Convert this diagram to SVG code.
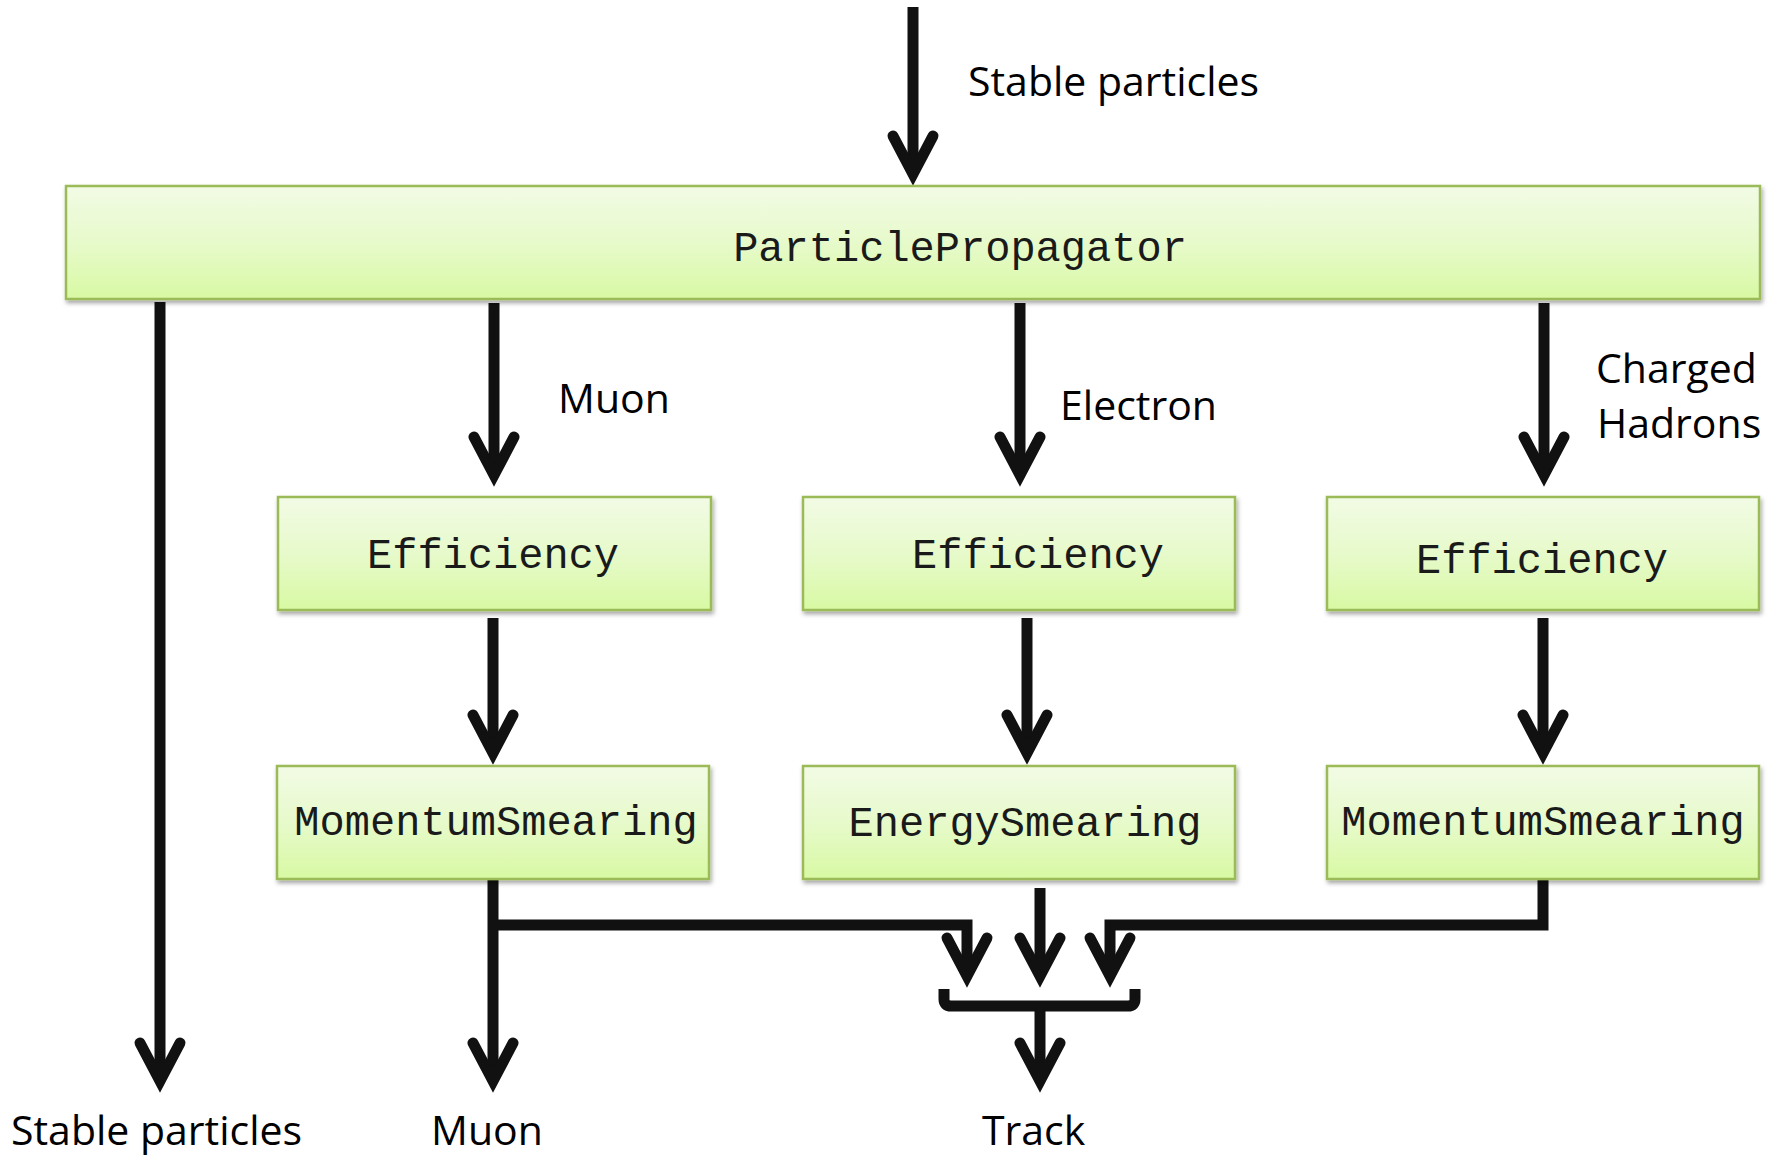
<svg xmlns="http://www.w3.org/2000/svg" width="1771" height="1158" viewBox="0 0 1771 1158">
  <style>
    .box { fill: url(#boxFill); stroke: #9bbb59; stroke-width: 2.5; filter: url(#shadow); }
    .mono { font-family: "Liberation Mono", "Courier New", monospace; font-size: 42px; fill: #1a1a1a; text-anchor: middle; }
    .lbl { font-family: "Open Sans", "Liberation Sans", sans-serif; font-size: 41px; fill: #000; }
    .wire { fill: none; stroke: #111; stroke-width: 11; stroke-linecap: butt; stroke-linejoin: miter; }
    .arrow { marker-end: url(#head); }
  </style>
  <defs>
    <linearGradient id="boxFill" x1="0" y1="0" x2="0" y2="1">
      <stop offset="0" stop-color="#f2fbe5"/>
      <stop offset="0.5" stop-color="#e7facb"/>
      <stop offset="1" stop-color="#d8f9a3"/>
    </linearGradient>
    <filter id="shadow" x="-5%" y="-20%" width="110%" height="150%">
      <feDropShadow dx="1.5" dy="3" stdDeviation="2" flood-color="#000" flood-opacity="0.35"/>
    </filter>
    <!-- open chevron head; path ends at the chevron vertex, the miter forms the tip -->
    <marker id="head" markerUnits="userSpaceOnUse" orient="auto" refX="0" refY="0" markerWidth="10" markerHeight="10" overflow="visible">
      <path d="M-38,-20 L0,0 L-38,20" fill="none" stroke="#111" stroke-width="11" stroke-linecap="round" stroke-linejoin="miter"/>
    </marker>
  </defs>

  <!-- connectors -->
  <g id="connectors">
    <path class="wire arrow" d="M913,7 V174"/>
    <path class="wire arrow" d="M160,302 V1081"/>
    <path class="wire arrow" d="M494,303 V475"/>
    <path class="wire arrow" d="M1020,303 V475"/>
    <path class="wire arrow" d="M1544,303 V475"/>
    <path class="wire arrow" d="M493,618 V753"/>
    <path class="wire arrow" d="M1027,618 V753"/>
    <path class="wire arrow" d="M1543,618 V753"/>
    <path class="wire arrow" d="M493,880 V1081"/>
    <path class="wire arrow" d="M493,925 H967 V976"/>
    <path class="wire arrow" d="M1040,888 V976"/>
    <path class="wire arrow" d="M1543,880 V925 H1110 V976"/>
    <path class="wire" d="M944,989 V999 Q944,1006 951,1006 H1128 Q1135,1006 1135,999 V989"/>
    <path class="wire arrow" d="M1040,1006 V1081"/>
  </g>

  <!-- modules -->
  <g id="particle-propagator">
    <rect class="box" x="66" y="186" width="1694" height="113"/>
    <text class="mono" x="960" y="261">ParticlePropagator</text>
  </g>
  <g id="muon-efficiency">
    <rect class="box" x="278" y="497" width="433" height="113"/>
    <text class="mono" x="493" y="568">Efficiency</text>
  </g>
  <g id="electron-efficiency">
    <rect class="box" x="803" y="497" width="432" height="113"/>
    <text class="mono" x="1038" y="568">Efficiency</text>
  </g>
  <g id="hadron-efficiency">
    <rect class="box" x="1327" y="497" width="432" height="113"/>
    <text class="mono" x="1542" y="573">Efficiency</text>
  </g>
  <g id="muon-momentum-smearing">
    <rect class="box" x="277" y="766" width="432" height="113"/>
    <text class="mono" x="496" y="835">MomentumSmearing</text>
  </g>
  <g id="electron-energy-smearing">
    <rect class="box" x="803" y="766" width="432" height="113"/>
    <text class="mono" x="1025" y="836">EnergySmearing</text>
  </g>
  <g id="hadron-momentum-smearing">
    <rect class="box" x="1327" y="766" width="432" height="113"/>
    <text class="mono" x="1543" y="835">MomentumSmearing</text>
  </g>

  <!-- flow labels -->
  <g id="labels">
    <text class="lbl" x="968" y="96">Stable particles</text>
    <text class="lbl" x="558" y="413">Muon</text>
    <text class="lbl" x="1060" y="420">Electron</text>
    <text class="lbl" x="1596" y="383">Charged</text>
    <text class="lbl" x="1597" y="438">Hadrons</text>
    <text class="lbl" x="11" y="1145">Stable particles</text>
    <text class="lbl" x="431" y="1145">Muon</text>
    <text class="lbl" x="982" y="1145">Track</text>
  </g>
</svg>
